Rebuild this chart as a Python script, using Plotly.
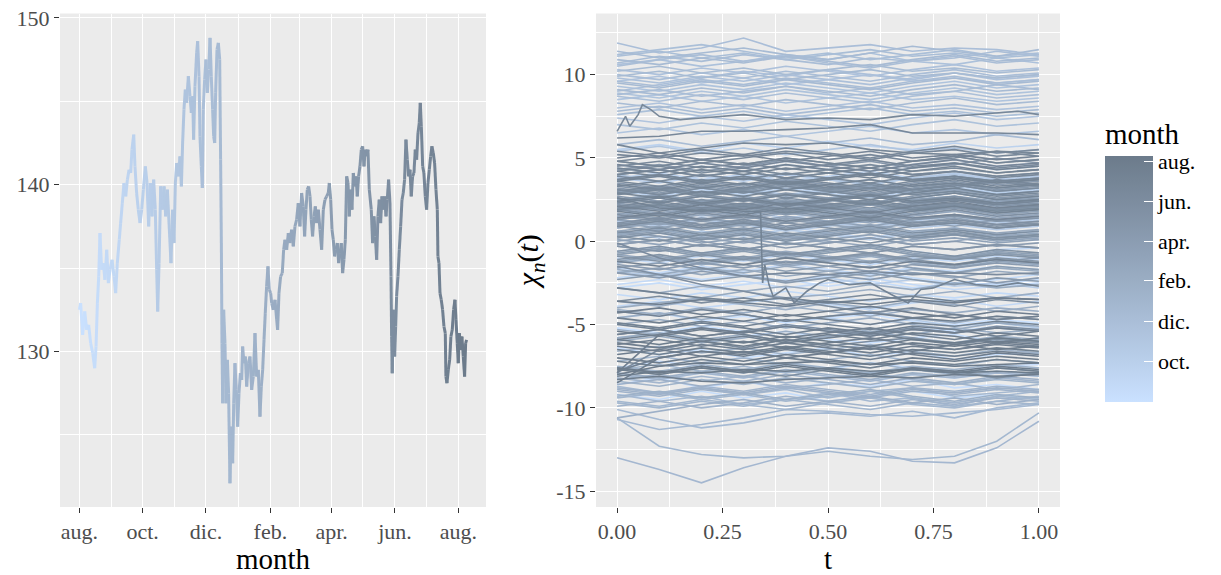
import numpy as np
import pandas as pd
import plotly.graph_objects as go

# ---------------- data ----------------
BASE_DATE = "2022-08-01"

# left panel: price series (day offset from BASE_DATE, price)
left_days = [0.0, 1.3, 3.2, 5.2, 7.1, 9.0, 10.9, 12.9, 14.8, 16.1, 17.4, 18.7, 19.9, 21.5, 23.1, 24.7, 26.4, 28.0, 29.6, 31.5,
             33.4, 35.0, 36.6, 38.5, 39.8, 41.4, 43.0, 44.7, 46.3, 47.9, 49.5, 50.7, 52.4, 53.6, 55.2, 56.8, 58.5, 60.1, 61.7, 63.6,
             65.2, 66.8, 68.4, 70.0, 71.6, 73.2, 74.5, 75.5, 76.8, 78.4, 80.0, 81.6, 83.2, 84.8, 86.4,
             88.3, 89.9, 91.2, 92.5, 93.8, 95.4, 97.0, 98.3, 99.5, 100.8, 102.1, 103.4, 105.0, 106.6, 107.9, 109.2, 110.1, 111.4,
             113.0, 114.0, 115.3, 116.2, 117.5, 118.5, 119.4, 120.7, 122.0, 123.3, 124.6, 125.9, 127.1, 128.4, 129.4, 130.4, 131.3,
             132.6, 133.9, 135.2, 136.1, 136.8, 137.4, 138.1, 139.0, 140.3, 141.3, 142.6, 143.8, 145.1, 146.4, 147.7, 148.7, 149.9,
             151.2, 152.5, 153.8, 155.1, 156.4, 157.3, 158.6, 159.9, 161.2, 162.8, 164.4, 166.0, 167.6, 169.2, 170.8, 172.4, 174.0,
             175.3, 176.6, 177.9, 179.1, 180.4, 181.7, 183.0, 184.3,
             185.3, 186.8, 188.5, 190.1, 191.0, 192.3, 193.9, 195.5, 196.8, 198.1, 199.7, 201.3, 202.9, 204.5, 206.1, 207.7, 209.3,
             210.9, 212.5, 214.1, 215.7, 217.0, 218.3, 219.6, 220.9, 222.2, 223.4, 224.7, 226.0, 227.3, 228.6, 230.2, 231.8, 233.4,
             235.0, 236.6, 238.2, 239.8, 240.8, 242.1, 243.4, 244.6, 245.9, 247.2, 248.5, 249.8, 251.1, 252.3, 253.6, 254.9, 256.2,
             257.5, 258.8, 260.0, 261.3, 262.6, 263.9, 265.2, 266.5, 267.7, 269.0, 270.3, 271.6, 272.9, 274.2, 275.4, 276.7, 278.0,
             279.3,
             281.2, 282.5, 283.8, 285.1, 286.4, 287.6, 288.9, 290.2, 291.5, 292.8, 294.1, 295.4, 296.6, 297.9, 299.2, 300.2, 300.8,
             301.4, 302.4, 303.7, 304.7, 305.6, 306.9, 308.2, 309.5, 310.8, 312.0, 313.3, 314.6, 315.9, 317.2, 318.5, 319.7, 321.0,
             322.3, 323.6, 324.9, 326.2, 327.4, 328.4, 329.4, 330.7, 331.9, 333.2, 334.5, 335.8, 337.1, 338.4, 339.6, 340.9, 342.2,
             343.5, 344.8, 345.4, 346.4, 347.4, 348.6, 349.9, 351.2, 352.5, 353.1, 354.1, 355.4, 356.7, 357.9, 359.2, 360.5, 361.8,
             362.8, 364.0, 365.0, 366.0, 367.3, 368.5, 369.8, 371.1, 372.1, 373.0]
left_price = [132.5, 132.9, 131.0, 132.4, 131.3, 131.6, 130.5, 129.9, 129.0, 130.3, 132.9, 134.5, 137.1, 134.9, 135.3, 134.3, 136.1, 134.1, 134.9, 135.5,
              134.5, 133.5, 135.3, 136.7, 137.7, 138.9, 140.1, 139.3, 140.3, 140.9, 140.7, 142.1, 143.0, 141.1, 139.5, 138.5, 137.7, 138.5, 139.7, 141.1,
              140.1, 137.5, 140.1, 138.1, 140.3, 138.5, 134.9, 132.4, 135.3, 139.9, 138.5, 139.9, 138.1, 139.7, 137.7,
              135.3, 138.5, 136.5, 140.1, 141.3, 140.5, 141.7, 139.9, 142.5, 144.5, 145.7, 144.9, 146.5, 145.3, 144.3, 145.3, 142.7, 145.9,
              147.9, 148.6, 146.5, 142.9, 141.1, 139.8, 144.5, 146.3, 147.5, 145.5, 146.9, 148.8, 146.5, 144.5, 142.9, 142.5, 145.5,
              148.1, 148.5, 147.5, 141.5, 136.5, 130.5, 126.9, 132.5, 130.5, 126.9, 129.5, 127.5, 122.1, 125.5, 123.3, 126.9, 129.3,
              127.7, 125.5, 127.5, 128.7, 128.3, 130.3, 129.3, 129.7, 127.9, 129.3, 129.7, 127.7, 128.5, 131.1, 128.5, 128.9, 126.1,
              127.9, 128.9, 130.7, 132.3, 133.9, 135.1, 133.7, 133.5,
              132.9, 132.5, 133.1, 131.9, 131.3, 133.5, 134.5, 134.7, 136.1, 136.7, 136.1, 137.1, 136.5, 137.3, 136.3, 137.5, 137.9,
              138.9, 137.5, 139.5, 138.7, 136.9, 138.5, 139.7, 139.9, 139.3, 137.9, 136.9, 138.1, 138.7, 137.7, 138.5, 137.3, 136.1,
              138.5, 139.1, 139.3, 139.5, 140.1, 139.1, 137.3, 136.7, 135.7, 136.1, 136.5, 135.3, 135.9, 136.5, 134.7, 135.5, 136.7,
              140.5, 140.1, 138.1, 139.7, 138.5, 140.7, 139.9, 140.5, 139.3, 140.5, 141.1, 142.1, 142.3, 141.1, 142.1, 141.7, 142.1,
              139.7,
              138.5, 136.5, 138.1, 136.9, 135.5, 138.1, 139.1, 137.7, 139.3, 138.5, 139.3, 138.1, 139.1, 140.3, 138.9, 134.5, 130.9,
              128.7, 132.5, 129.7, 131.5, 133.3, 134.5, 136.1, 137.5, 139.1, 139.5, 140.3, 142.7, 141.5, 140.5, 140.9, 139.3, 140.5,
              140.7, 142.1, 141.5, 143.1, 143.7, 144.9, 143.5, 141.1, 140.7, 139.3, 138.5, 140.1, 140.9, 141.7, 142.3, 141.9, 141.3,
              139.7, 138.5, 135.7, 135.3, 133.5, 133.1, 132.5, 131.5, 131.1, 128.5, 128.1, 128.9, 129.5, 130.9, 131.3, 132.5, 133.1,
              131.9, 130.5, 129.3, 131.1, 130.1, 130.9, 129.7, 128.5, 130.5, 130.7]

# right panel: daily curves on a regular t grid (t = 0, 0.1, ..., 1)
curve_t = [0.0, 0.1, 0.2, 0.3, 0.4, 0.5, 0.6, 0.7, 0.8, 0.9, 1.0]
curve_days = [1, 3, 6, 9, 13, 15, 17, 20, 22, 25, 28,
              31, 34, 38, 42, 45, 49, 52, 55, 58,
              61, 64, 67, 70, 73, 75, 78, 81, 84, 87, 90,
              92, 95, 98, 101, 103, 106, 108, 110, 113, 115, 117, 119, 121,
              122, 123, 124, 126, 127, 128, 129, 130, 131, 132, 133, 134, 135, 136,
              138, 140, 141, 143, 145, 147, 149, 151,
              153, 155, 157, 159, 161, 163, 165, 167, 170, 173, 176, 179, 182,
              184, 186, 188, 190, 193, 196, 199, 202, 205, 208, 211,
              213, 215, 217, 220, 223, 226, 229, 232, 235, 238, 241,
              243, 245, 248, 251, 254, 257, 260, 263, 266, 269, 272,
              274, 277, 280, 283, 286, 289, 292, 295, 298, 300, 302,
              304, 306, 308, 310, 312, 314, 316, 318, 320, 322, 326, 328, 330, 332,
              334, 336, 338, 340, 342, 346, 348, 350, 352, 354, 356, 358, 360, 362, 364,
              366, 368, 370, 372]
curve_values = [
    [-4.6, -4.3, -4.8, -4.5, -4.9, -4.6, -4.4, -4.8, -5.0, -4.7, -4.9],
    [-5.8, -5.5, -6.0, -5.7, -5.4, -5.9, -6.1, -5.8, -5.6, -6.0, -5.8],
    [-6.4, -6.8, -6.5, -7.0, -6.7, -6.4, -6.9, -6.6, -7.1, -6.8, -6.7],
    [-7.6, -7.2, -7.5, -7.9, -7.4, -7.7, -7.3, -7.6, -7.8, -7.5, -7.4],
    [-8.6, -8.2, -8.8, -8.4, -8.9, -8.5, -8.7, -8.3, -8.8, -8.6, -8.9],
    [-9.2, -9.5, -9.0, -9.4, -9.1, -9.6, -9.3, -9.0, -9.4, -9.2, -9.5],
    [-2.8, -2.5, -2.9, -2.6, -2.3, -2.7, -2.4, -2.8, -2.5, -2.6, -2.3],
    [-1.0, -1.3, -0.9, -1.2, -0.8, -1.1, -1.4, -1.0, -1.2, -0.9, -1.1],
    [-2.2, -1.9, -2.3, -2.0, -2.4, -2.1, -1.8, -2.2, -2.5, -2.3, -2.0],
    [-3.2, -3.5, -3.1, -3.4, -3.0, -3.3, -3.6, -3.2, -3.4, -3.1, -3.3],
    [-2.6, -2.3, -2.7, -2.4, -2.8, -2.5, -2.2, -2.6, -2.9, -2.7, -2.5],
    [-3.9, -3.6, -4.0, -3.7, -3.4, -3.8, -4.1, -3.7, -3.5, -3.9, -3.6],
    [-0.6, -0.3, -0.7, -0.4, -0.8, -0.5, -0.2, -0.6, -0.9, -0.5, -0.4],
    [0.4, 0.7, 0.3, 0.6, 0.9, 0.5, 0.2, 0.6, 0.8, 0.4, 0.6],
    [1.8, 2.1, 1.7, 2.0, 2.3, 1.9, 2.2, 1.8, 2.0, 2.4, 2.1],
    [3.0, 2.7, 3.1, 2.8, 3.2, 2.9, 2.6, 3.0, 3.3, 2.9, 3.1],
    [3.8, 4.1, 3.7, 4.0, 3.6, 3.9, 4.2, 3.8, 4.0, 3.7, 3.9],
    [5.5, 5.8, 5.4, 5.9, 5.6, 6.0, 5.7, 5.5, 5.9, 5.6, 5.8],
    [4.4, 4.1, 4.5, 4.2, 4.6, 4.3, 4.0, 4.4, 4.7, 4.3, 4.5],
    [1.3, 1.0, 1.4, 1.1, 1.5, 1.2, 0.9, 1.3, 1.6, 1.2, 1.4],
    [3.0, 3.3, 2.9, 3.2, 2.8, 3.1, 3.4, 3.0, 3.2, 2.9, 3.1],
    [2.2, 1.9, 2.3, 2.0, 2.4, 2.1, 1.8, 2.2, 2.5, 2.1, 2.3],
    [0.5, 0.2, 0.6, 0.3, 0.7, 0.4, 0.1, 0.5, 0.8, 0.4, 0.6],
    [1.6, 1.9, 1.5, 1.8, 1.4, 1.7, 2.0, 1.6, 1.8, 1.5, 1.7],
    [-1.8, -2.1, -1.7, -2.0, -2.4, -2.2, -2.6, -2.3, -2.7, -2.5, -2.8],
    [-4.2, -4.5, -4.1, -4.4, -4.8, -4.6, -5.0, -4.7, -5.1, -4.9, -5.2],
    [2.5, 2.8, 2.4, 2.7, 2.3, 2.6, 2.9, 2.5, 2.7, 2.4, 2.6],
    [1.2, 0.9, 1.3, 1.0, 1.4, 1.1, 0.8, 1.2, 1.5, 1.1, 1.3],
    [2.9, 3.2, 2.8, 3.1, 2.7, 3.0, 3.3, 2.9, 3.1, 2.8, 3.0],
    [0.8, 1.1, 0.7, 1.0, 0.6, 0.9, 1.2, 0.8, 1.0, 0.7, 0.9],
    [2.6, 2.3, 2.7, 2.4, 2.8, 2.5, 2.2, 2.6, 2.9, 2.5, 2.7],
    [3.6, 3.9, 3.5, 3.8, 4.1, 3.7, 3.4, 3.8, 4.0, 3.6, 3.8],
    [4.6, 4.3, 4.7, 4.4, 4.8, 4.5, 4.2, 4.6, 4.9, 4.5, 4.7],
    [5.4, 5.7, 5.3, 5.6, 5.2, 5.5, 5.8, 5.4, 5.6, 5.3, 5.5],
    [7.4, 7.1, 7.5, 7.2, 7.6, 7.3, 7.0, 7.4, 7.7, 7.3, 7.5],
    [8.5, 8.8, 8.4, 8.7, 8.3, 8.6, 8.9, 8.5, 8.7, 8.4, 8.6],
    [9.3, 9.0, 9.4, 9.1, 9.5, 9.2, 8.9, 9.3, 9.6, 9.2, 9.4],
    [8.0, 8.3, 7.9, 8.2, 7.8, 8.1, 8.4, 8.0, 8.2, 7.9, 8.1],
    [7.0, 6.7, 7.1, 6.8, 7.2, 6.9, 6.6, 7.0, 7.3, 6.9, 7.1],
    [10.6, 10.9, 10.5, 10.8, 11.2, 10.9, 11.3, 10.8, 10.6, 11.0, 10.7],
    [9.8, 9.5, 9.9, 9.6, 10.0, 9.7, 9.4, 9.8, 10.1, 9.7, 9.9],
    [4.0, 3.6, 3.2, 2.9, 3.3, 3.0, 2.7, 3.1, 3.4, 3.0, 3.2],
    [9.0, 9.4, 9.8, 10.2, 9.9, 10.3, 10.0, 9.7, 10.1, 9.8, 10.0],
    [11.2, 11.5, 11.8, 11.4, 11.0, 11.3, 10.9, 11.2, 11.5, 11.1, 11.3],
    [11.9, 11.3, 11.6, 12.2, 11.4, 11.6, 11.8, 11.4, 11.6, 11.5, 11.2],
    [10.5, 10.9, 11.2, 10.8, 11.1, 10.7, 10.4, 10.8, 11.0, 11.4, 11.1],
    [10.0, 9.7, 10.1, 9.8, 10.2, 9.9, 9.6, 10.0, 10.3, 9.9, 10.1],
    [8.8, 9.1, 8.7, 9.0, 9.3, 8.9, 9.2, 8.8, 9.0, 9.4, 9.1],
    [10.7, 11.1, 10.8, 11.2, 10.9, 10.6, 11.0, 10.8, 11.1, 10.7, 10.9],
    [9.6, 9.3, 9.7, 9.4, 9.8, 9.5, 9.2, 9.6, 9.9, 9.5, 9.7],
    [7.8, 8.1, 7.7, 8.0, 7.6, 7.9, 8.2, 7.8, 8.0, 7.7, 7.9],
    [5.8, 6.1, 5.7, 6.0, 6.3, 5.9, 6.2, 5.8, 6.0, 6.4, 6.1],
    [8.3, 8.0, 8.4, 8.1, 8.5, 8.2, 7.9, 8.3, 8.6, 8.2, 8.4],
    [10.2, 10.5, 10.1, 10.4, 10.0, 10.3, 10.6, 10.2, 10.4, 10.1, 10.3],
    [11.4, 11.0, 11.3, 11.6, 11.2, 10.9, 11.3, 11.7, 11.4, 11.1, 11.5],
    [9.1, 8.8, 9.2, 8.9, 9.3, 9.0, 8.7, 9.1, 9.4, 9.0, 9.2],
    [10.9, 10.6, 11.0, 10.7, 11.1, 10.8, 10.5, 10.9, 11.2, 10.8, 11.0],
    [9.9, 10.2, 9.8, 10.1, 9.7, 10.0, 10.3, 9.9, 10.1, 9.8, 10.0],
    [-10.1, -10.7, -11.2, -10.9, -10.4, -10.3, -10.5, -10.2, -10.6, -10.0, -9.7],
    [-9.2, -9.6, -9.3, -9.8, -9.5, -9.1, -9.6, -9.4, -9.9, -9.3, -9.0],
    [-10.7, -11.3, -11.0, -10.6, -10.1, -10.2, -10.4, -10.5, -10.3, -10.1, -9.8],
    [-8.7, -9.1, -8.8, -9.2, -8.9, -9.4, -9.0, -8.8, -9.3, -9.1, -8.9],
    [-10.6, -12.3, -12.8, -13.0, -12.9, -12.6, -12.9, -13.1, -12.9, -12.0, -10.3],
    [-13.0, -13.7, -14.5, -13.6, -12.9, -12.4, -12.6, -13.2, -13.3, -12.4, -10.8],
    [-9.6, -9.9, -9.5, -9.8, -10.1, -9.7, -9.4, -9.8, -10.0, -9.6, -9.3],
    [-8.2, -8.5, -8.1, -8.4, -8.8, -8.6, -8.3, -8.7, -8.5, -8.9, -8.6],
    [-9.4, -9.1, -9.5, -9.2, -9.6, -9.3, -9.0, -9.4, -9.7, -9.3, -9.5],
    [-8.0, -8.3, -7.9, -8.2, -7.8, -8.1, -8.4, -8.0, -8.2, -7.9, -8.1],
    [-7.2, -6.9, -7.3, -7.0, -7.4, -7.1, -6.8, -7.2, -7.5, -7.1, -7.3],
    [-8.8, -9.1, -8.7, -9.0, -8.6, -8.9, -9.2, -8.8, -9.0, -8.7, -8.9],
    [-7.7, -7.4, -7.8, -7.5, -7.9, -7.6, -7.3, -7.7, -8.0, -7.6, -7.8],
    [-9.9, -9.6, -10.0, -9.7, -9.3, -9.6, -9.9, -9.5, -9.8, -9.4, -9.6],
    [-8.4, -8.7, -8.3, -8.6, -8.2, -8.5, -8.8, -8.4, -8.6, -8.3, -8.5],
    [-6.6, -6.3, -6.7, -6.4, -6.8, -6.5, -6.2, -6.6, -6.9, -6.5, -6.7],
    [-8.9, -9.2, -8.8, -9.1, -8.7, -9.0, -9.3, -8.9, -9.1, -8.8, -9.0],
    [-10.6, -10.2, -9.8, -9.5, -9.9, -9.6, -9.3, -9.7, -9.4, -9.8, -9.5],
    [-8.6, -8.3, -8.7, -8.4, -8.0, -8.3, -8.6, -8.2, -8.5, -8.1, -8.3],
    [-6.0, -5.7, -6.1, -5.8, -5.4, -5.7, -5.3, -5.6, -5.2, -5.5, -5.3],
    [-2.8, -3.1, -2.7, -3.0, -3.4, -3.2, -2.9, -3.3, -3.0, -3.4, -3.1],
    [-3.6, -3.9, -3.5, -3.8, -4.1, -3.7, -4.0, -3.6, -3.8, -4.2, -3.9],
    [-4.6, -4.3, -4.7, -4.4, -4.8, -4.5, -4.2, -4.6, -4.9, -4.5, -4.7],
    [-5.3, -5.6, -5.2, -5.5, -5.1, -5.4, -5.7, -5.3, -5.5, -5.2, -5.4],
    [-5.8, -5.5, -5.9, -5.6, -6.0, -5.7, -5.4, -5.8, -6.1, -5.7, -5.9],
    [-4.0, -3.7, -3.4, -3.0, -2.7, -3.0, -2.6, -2.9, -2.5, -2.8, -2.6],
    [-1.7, -2.0, -1.6, -1.9, -1.5, -1.8, -2.1, -1.7, -1.9, -1.6, -1.8],
    [-0.8, -1.1, -0.7, -1.0, -0.6, -0.9, -1.2, -0.8, -1.0, -0.7, -0.9],
    [-0.2, 0.1, -0.3, 0.0, 0.3, -0.1, 0.2, -0.2, 0.0, 0.4, 0.1],
    [-1.3, -1.0, -1.4, -1.1, -1.5, -1.2, -0.9, -1.3, -1.6, -1.2, -1.4],
    [0.4, 0.7, 0.3, 0.6, 0.2, 0.5, 0.8, 0.4, 0.6, 0.3, 0.5],
    [1.5, 1.2, 1.6, 1.3, 1.7, 1.4, 1.1, 1.5, 1.8, 1.4, 1.6],
    [1.9, 2.2, 1.8, 2.1, 2.4, 2.0, 1.7, 2.1, 2.3, 1.9, 2.1],
    [2.6, 2.3, 2.7, 2.4, 2.8, 2.5, 2.2, 2.6, 2.9, 2.5, 2.7],
    [0.1, -0.2, 0.2, -0.1, 0.3, 0.0, -0.3, 0.1, 0.4, 0.0, 0.2],
    [2.9, 3.2, 2.8, 3.1, 2.7, 3.0, 3.3, 2.9, 3.1, 2.8, 3.0],
    [1.1, 0.8, 1.2, 0.9, 1.3, 1.0, 0.7, 1.1, 1.4, 1.0, 1.2],
    [0.8, 1.1, 0.7, 1.0, 1.4, 1.1, 1.5, 1.2, 0.9, 1.3, 1.0],
    [1.7, 1.4, 1.8, 1.5, 1.9, 1.6, 1.3, 1.7, 2.0, 1.6, 1.8],
    [-0.7, -0.4, -0.8, -0.5, -0.9, -0.6, -0.3, -0.7, -1.0, -0.6, -0.8],
    [1.4, 1.7, 1.3, 1.6, 1.2, 1.5, 1.8, 1.4, 1.6, 1.3, 1.5],
    [2.3, 2.0, 2.4, 2.1, 2.5, 2.2, 1.9, 2.3, 2.6, 2.2, 2.4],
    [3.1, 2.8, 3.2, 2.9, 3.3, 3.0, 2.7, 3.1, 3.4, 3.0, 3.2],
    [0.6, 0.3, 0.0, -0.4, -0.7, -1.0, -0.8, -1.1, -0.9, -1.2, -1.0],
    [-1.6, -1.3, -1.7, -1.4, -1.8, -1.5, -1.2, -1.6, -1.9, -1.5, -1.7],
    [-0.8, -0.5, -0.9, -0.6, -1.0, -0.7, -0.4, -0.8, -1.1, -0.7, -0.9],
    [0.3, 0.6, 0.2, 0.5, 0.1, 0.4, 0.7, 0.3, 0.5, 0.2, 0.4],
    [-1.9, -2.2, -1.8, -2.1, -2.4, -2.0, -2.3, -1.9, -2.1, -2.5, -2.2],
    [3.5, 3.2, 3.6, 3.3, 3.7, 3.4, 3.1, 3.5, 3.8, 3.4, 3.6],
    [2.4, 2.7, 2.3, 2.6, 2.2, 2.5, 2.8, 2.4, 2.6, 2.3, 2.5],
    [3.7, 4.0, 3.6, 3.9, 3.5, 3.8, 4.1, 3.7, 3.9, 3.6, 3.8],
    [2.7, 2.4, 2.8, 2.5, 2.9, 2.6, 2.3, 2.7, 3.0, 2.6, 2.8],
    [4.3, 4.6, 4.2, 4.5, 4.9, 4.5, 4.8, 4.4, 4.6, 5.0, 4.7],
    [3.3, 3.0, 3.4, 3.1, 3.5, 3.2, 2.9, 3.3, 3.6, 3.2, 3.4],
    [1.3, 1.6, 1.2, 1.5, 1.1, 1.4, 1.7, 1.3, 1.5, 1.2, 1.4],
    [-0.3, -0.6, -0.2, -0.5, -0.1, -0.4, -0.7, -0.3, -0.5, -0.2, -0.4],
    [0.9, 0.6, 1.0, 0.7, 1.1, 0.8, 0.5, 0.9, 1.2, 0.8, 1.0],
    [-0.9, -1.2, -0.8, -1.1, -0.7, -1.0, -1.3, -0.9, -1.1, -0.8, -1.0],
    [0.2, 0.5, 0.1, 0.4, 0.0, 0.3, 0.6, 0.2, 0.4, 0.1, 0.3],
    [1.9, 1.6, 2.0, 1.7, 2.1, 1.8, 1.5, 1.9, 2.2, 1.8, 2.0],
    [0.5, 0.8, 0.4, 0.7, 0.3, 0.6, 0.9, 0.5, 0.7, 0.4, 0.6],
    [1.6, 1.3, 1.7, 1.4, 1.8, 1.5, 1.2, 1.6, 1.9, 1.5, 1.7],
    [2.9, 3.2, 2.8, 3.1, 3.5, 3.1, 3.4, 3.0, 3.2, 3.6, 3.3],
    [-1.5, -2.0, -2.6, -3.0, -3.5, -3.9, -4.3, -4.0, -4.4, -4.7, -4.5],
    [-7.6, -7.9, -7.5, -7.8, -8.1, -7.7, -8.0, -7.6, -7.8, -8.2, -7.9],
    [-7.9, -6.5, -6.0, -6.4, -5.9, -6.3, -6.0, -5.8, -6.2, -5.9, -6.1],
    [-5.6, -5.3, -5.7, -5.4, -5.0, -5.3, -5.6, -5.2, -5.5, -5.1, -5.3],
    [-3.6, -3.3, -3.7, -3.4, -3.8, -3.5, -3.2, -3.6, -3.9, -3.5, -3.7],
    [-0.1, -1.0, -1.6, -2.1, -1.9, -2.0, -1.8, -2.0, -1.9, -2.0, -1.9],
    [0.9, 1.2, 0.8, 1.1, 0.7, 1.0, 1.3, 0.9, 1.1, 0.8, 1.0],
    [2.1, 2.4, 2.0, 2.3, 1.9, 2.2, 2.5, 2.1, 2.3, 2.0, 2.2],
    [3.6, 3.3, 3.7, 3.4, 3.8, 3.5, 3.2, 3.6, 3.9, 3.5, 3.7],
    [4.5, 4.8, 4.4, 4.7, 4.3, 4.6, 4.9, 4.5, 4.7, 4.4, 4.6],
    [3.0, 3.3, 2.9, 3.2, 3.6, 3.2, 3.5, 3.1, 3.3, 3.7, 3.4],
    [5.2, 5.0, 5.3, 5.1, 5.4, 5.2, 4.9, 5.3, 5.5, 5.1, 5.3],
    [6.2, 6.3, 6.6, 6.6, 6.7, 6.8, 7.0, 6.5, 6.5, 6.5, 6.4],
    [5.8, 5.3, 5.6, 5.9, 5.8, 5.9, 5.5, 5.3, 5.2, 5.4, 5.3],
    [4.0, 4.3, 3.9, 4.2, 3.8, 4.1, 4.4, 4.0, 4.2, 3.9, 4.1],
    [2.6, 2.3, 2.7, 2.4, 2.8, 2.5, 2.2, 2.6, 2.9, 2.5, 2.7],
    [4.8, 4.5, 4.9, 4.6, 5.0, 4.7, 4.4, 4.8, 5.1, 4.7, 4.9],
    [3.3, 3.6, 3.2, 3.5, 3.1, 3.4, 3.7, 3.3, 3.5, 3.2, 3.4],
    [2.4, 2.7, 2.3, 2.6, 2.2, 2.5, 2.8, 2.4, 2.6, 2.3, 2.5],
    [4.2, 3.9, 4.3, 4.0, 4.4, 4.1, 3.8, 4.2, 4.5, 4.1, 4.3],
    [1.8, 1.5, 1.9, 1.6, 2.0, 1.7, 1.4, 1.8, 2.1, 1.7, 1.9],
    [-2.8, -3.1, -3.4, -3.6, -3.4, -3.7, -3.5, -3.3, -3.6, -3.4, -3.5],
    [-4.2, -4.5, -4.1, -4.4, -4.8, -4.5, -4.3, -4.6, -4.4, -4.7, -4.5],
    [-5.0, -5.3, -4.9, -5.2, -5.6, -5.2, -5.5, -5.1, -5.3, -5.7, -5.4],
    [-5.9, -5.6, -6.0, -5.7, -6.1, -5.8, -5.5, -5.9, -6.2, -5.8, -6.0],
    [-7.8, -7.0, -6.6, -6.9, -6.5, -6.8, -7.1, -6.7, -6.9, -6.6, -6.8],
    [-6.3, -6.6, -6.2, -6.5, -6.1, -6.4, -6.7, -6.3, -6.5, -6.2, -6.4],
    [-4.6, -4.9, -4.5, -4.8, -4.4, -4.7, -5.0, -4.6, -4.8, -4.5, -4.7],
    [-3.6, -3.8, -3.5, -3.7, -3.9, -3.6, -3.8, -3.5, -3.7, -3.4, -3.5],
    [-5.4, -5.7, -5.3, -5.6, -6.0, -5.6, -5.9, -5.5, -5.7, -6.1, -5.8],
    [-6.8, -6.5, -6.9, -6.6, -7.0, -6.7, -6.4, -6.8, -7.1, -6.7, -6.9],
    [-8.3, -8.1, -8.4, -8.5, -8.3, -8.2, -8.1, -8.2, -8.0, -8.1, -8.0],
    [-7.6, -7.9, -7.5, -7.8, -7.4, -7.7, -8.0, -7.6, -7.8, -7.5, -7.7],
    [-8.5, -7.0, -6.6, -6.8, -6.4, -6.7, -6.3, -6.6, -6.2, -6.5, -6.3],
    [-8.0, -7.5, -7.3, -7.4, -7.3, -7.2, -7.4, -7.3, -7.5, -7.4, -7.3],
]

# further daily curves on the same t grid
extra_days = [2, 11, 24, 36, 47, 65, 72, 80, 86,
              100, 104, 107, 112, 118, 120, 125, 137,
              154, 158, 162, 168, 172, 177,
              185, 192, 198, 204, 210, 214, 219, 224, 228, 234, 240,
              247, 250, 256, 259, 265, 268, 271, 276, 279, 282, 285, 288, 291, 294, 297,
              311, 313, 315, 317, 319, 321, 323, 325, 327, 329, 331, 333, 335, 337, 339, 341, 343,
              345, 347, 349, 351, 353, 357, 359, 361, 363, 365, 367, 369, 371]
extra_values = [
    [-5.2, -5.5, -5.1, -5.4, -5.0, -5.3, -5.6, -5.2, -5.4, -5.1, -5.3],
    [-8.0, -8.3, -7.9, -8.2, -7.8, -8.1, -8.4, -8.0, -8.2, -7.9, -8.1],
    [-1.6, -1.9, -1.5, -1.8, -1.4, -1.7, -2.0, -1.6, -1.8, -1.5, -1.7],
    [-1.3, -1.0, -1.4, -1.1, -1.5, -1.2, -0.9, -1.3, -1.6, -1.2, -1.4],
    [3.3, 3.6, 3.2, 3.5, 3.1, 3.4, 3.7, 3.3, 3.5, 3.2, 3.4],
    [1.9, 1.6, 2.0, 1.7, 2.1, 1.8, 1.5, 1.9, 2.2, 1.8, 2.0],
    [3.8, 3.5, 3.9, 3.6, 4.0, 3.7, 3.4, 3.8, 4.1, 3.7, 3.9],
    [0.2, 0.5, 0.1, 0.4, 0.0, 0.3, 0.6, 0.2, 0.4, 0.1, 0.3],
    [2.3, 2.6, 2.2, 2.5, 2.1, 2.4, 2.7, 2.3, 2.5, 2.2, 2.4],
    [6.5, 6.8, 6.4, 6.7, 6.3, 6.6, 6.9, 6.5, 6.7, 6.4, 6.6],
    [9.6, 9.9, 9.5, 9.8, 9.4, 9.7, 10.0, 9.6, 9.8, 9.5, 9.7],
    [8.9, 8.6, 9.0, 8.7, 9.1, 8.8, 8.5, 8.9, 9.2, 8.8, 9.0],
    [10.3, 10.0, 10.4, 10.1, 10.5, 10.2, 9.9, 10.3, 10.6, 10.2, 10.4],
    [7.6, 7.9, 7.5, 7.8, 7.4, 7.7, 8.0, 7.6, 7.8, 7.5, 7.7],
    [8.7, 8.4, 8.8, 8.5, 8.9, 8.6, 8.3, 8.7, 9.0, 8.6, 8.8],
    [11.1, 11.4, 11.0, 11.3, 10.9, 11.2, 11.5, 11.1, 11.3, 11.0, 11.2],
    [9.5, 9.2, 9.6, 9.3, 9.7, 9.4, 9.1, 9.5, 9.8, 9.4, 9.6],
    [-9.7, -10.0, -9.6, -9.9, -9.5, -9.8, -10.1, -9.7, -9.9, -9.6, -9.8],
    [-8.3, -8.0, -8.4, -8.1, -8.5, -8.2, -7.9, -8.3, -8.6, -8.2, -8.4],
    [-9.0, -9.3, -8.9, -9.2, -8.8, -9.1, -9.4, -9.0, -9.2, -8.9, -9.1],
    [-7.5, -7.8, -7.4, -7.7, -7.3, -7.6, -7.9, -7.5, -7.7, -7.4, -7.6],
    [-9.3, -9.0, -9.4, -9.1, -9.5, -9.2, -8.9, -9.3, -9.6, -9.2, -9.4],
    [-7.9, -8.2, -7.8, -8.1, -7.7, -8.0, -8.3, -7.9, -8.1, -7.8, -8.0],
    [-4.1, -4.4, -4.0, -4.3, -3.9, -4.2, -4.5, -4.1, -4.3, -4.0, -4.2],
    [-5.0, -4.7, -5.1, -4.8, -5.2, -4.9, -4.6, -5.0, -5.3, -4.9, -5.1],
    [-0.3, -0.6, -0.2, -0.5, -0.1, -0.4, -0.7, -0.3, -0.5, -0.2, -0.4],
    [-1.9, -1.6, -2.0, -1.7, -2.1, -1.8, -1.5, -1.9, -2.2, -1.8, -2.0],
    [0.9, 1.2, 0.8, 1.1, 0.7, 1.0, 1.3, 0.9, 1.1, 0.8, 1.0],
    [2.0, 1.7, 2.1, 1.8, 2.2, 1.9, 1.6, 2.0, 2.3, 1.9, 2.1],
    [0.6, 0.9, 0.5, 0.8, 0.4, 0.7, 1.0, 0.6, 0.8, 0.5, 0.7],
    [1.3, 1.0, 1.4, 1.1, 1.5, 1.2, 0.9, 1.3, 1.6, 1.2, 1.4],
    [0.0, 0.3, -0.1, 0.2, -0.2, 0.1, 0.4, 0.0, 0.2, -0.1, 0.1],
    [-1.2, -0.9, -1.3, -1.0, -1.4, -1.1, -0.8, -1.2, -1.5, -1.1, -1.3],
    [2.5, 2.8, 2.4, 2.7, 2.3, 2.6, 2.9, 2.5, 2.7, 2.4, 2.6],
    [-0.2, 0.1, -0.3, 0.0, -0.4, -0.1, 0.2, -0.2, 0.0, -0.3, -0.1],
    [-1.4, -1.7, -1.3, -1.6, -1.2, -1.5, -1.8, -1.4, -1.6, -1.3, -1.5],
    [-2.3, -2.0, -2.4, -2.1, -2.5, -2.2, -1.9, -2.3, -2.6, -2.2, -2.4],
    [1.8, 2.1, 1.7, 2.0, 1.6, 1.9, 2.2, 1.8, 2.0, 1.7, 1.9],
    [3.2, 2.9, 3.3, 3.0, 3.4, 3.1, 2.8, 3.2, 3.5, 3.1, 3.3],
    [4.0, 4.3, 3.9, 4.2, 3.8, 4.1, 4.4, 4.0, 4.2, 3.9, 4.1],
    [4.8, 4.5, 4.9, 4.6, 5.0, 4.7, 4.4, 4.8, 5.1, 4.7, 4.9],
    [2.2, 1.9, 2.3, 2.0, 2.4, 2.1, 1.8, 2.2, 2.5, 2.1, 2.3],
    [-1.1, -0.8, -1.2, -0.9, -1.3, -1.0, -0.7, -1.1, -1.4, -1.0, -1.2],
    [1.0, 1.3, 0.9, 1.2, 0.8, 1.1, 1.4, 1.0, 1.2, 0.9, 1.1],
    [-0.6, -0.3, -0.7, -0.4, -0.8, -0.5, -0.2, -0.6, -0.9, -0.5, -0.7],
    [2.4, 2.1, 2.5, 2.2, 2.6, 2.3, 2.0, 2.4, 2.7, 2.3, 2.5],
    [1.1, 1.4, 1.0, 1.3, 0.9, 1.2, 1.5, 1.1, 1.3, 1.0, 1.2],
    [0.3, 0.0, 0.4, 0.1, 0.5, 0.2, -0.1, 0.3, 0.6, 0.2, 0.4],
    [2.0, 2.3, 1.9, 2.2, 1.8, 2.1, 2.4, 2.0, 2.2, 1.9, 2.1],
    [3.1, 2.8, 3.2, 2.9, 3.3, 3.0, 2.7, 3.1, 3.4, 3.0, 3.2],
    [4.2, 4.5, 4.1, 4.4, 4.0, 4.3, 4.6, 4.2, 4.4, 4.1, 4.3],
    [5.4, 5.1, 5.5, 5.2, 5.6, 5.3, 5.0, 5.4, 5.7, 5.3, 5.5],
    [2.8, 3.1, 2.7, 3.0, 2.6, 2.9, 3.2, 2.8, 3.0, 2.7, 2.9],
    [3.9, 3.6, 4.0, 3.7, 4.1, 3.8, 3.5, 3.9, 4.2, 3.8, 4.0],
    [1.9, 2.2, 1.8, 2.1, 1.7, 2.0, 2.3, 1.9, 2.1, 1.8, 2.0],
    [4.8, 5.1, 4.7, 5.0, 5.3, 4.9, 5.2, 4.8, 5.0, 5.4, 5.1],
    [3.4, 3.1, 3.5, 3.2, 3.6, 3.3, 3.0, 3.4, 3.7, 3.3, 3.5],
    [2.3, 2.6, 2.2, 2.5, 2.1, 2.4, 2.7, 2.3, 2.5, 2.2, 2.4],
    [4.6, 4.3, 4.7, 4.4, 4.8, 4.5, 4.2, 4.6, 4.9, 4.5, 4.7],
    [3.7, 4.0, 3.6, 3.9, 3.5, 3.8, 4.1, 3.7, 3.9, 3.6, 3.8],
    [1.4, 1.7, 1.3, 1.6, 1.2, 1.5, 1.8, 1.4, 1.6, 1.3, 1.5],
    [2.9, 2.6, 3.0, 2.7, 3.1, 2.8, 2.5, 2.9, 3.2, 2.8, 3.0],
    [5.0, 5.3, 4.9, 5.2, 4.8, 5.1, 5.4, 5.0, 5.2, 4.9, 5.1],
    [3.6, 3.9, 3.5, 3.8, 3.4, 3.7, 4.0, 3.6, 3.8, 3.5, 3.7],
    [2.1, 1.8, 2.2, 1.9, 2.3, 2.0, 1.7, 2.1, 2.4, 2.0, 2.2],
    [4.4, 4.1, 4.5, 4.2, 4.6, 4.3, 4.0, 4.4, 4.7, 4.3, 4.5],
    [-1.2, -1.5, -1.1, -1.4, -1.0, -1.3, -1.6, -1.2, -1.4, -1.1, -1.3],
    [-4.9, -5.2, -4.8, -5.1, -4.7, -5.0, -5.3, -4.9, -5.1, -4.8, -5.0],
    [-6.2, -5.9, -6.3, -6.0, -6.4, -6.1, -5.8, -6.2, -6.5, -6.1, -6.3],
    [-7.2, -7.5, -7.1, -7.4, -7.0, -7.3, -7.6, -7.2, -7.4, -7.1, -7.3],
    [-5.6, -5.3, -5.7, -5.4, -5.8, -5.5, -5.2, -5.6, -5.9, -5.5, -5.7],
    [-7.9, -5.6, -5.2, -5.5, -5.1, -5.4, -5.7, -5.3, -5.5, -5.2, -5.4],
    [-6.5, -6.8, -6.4, -6.7, -6.3, -6.6, -6.9, -6.5, -6.7, -6.4, -6.6],
    [-4.3, -4.0, -4.4, -4.1, -4.5, -4.2, -3.9, -4.3, -4.6, -4.2, -4.4],
    [-7.7, -8.0, -7.6, -7.9, -7.5, -7.8, -8.1, -7.7, -7.9, -7.6, -7.8],
    [-6.1, -6.4, -6.0, -6.3, -5.9, -6.2, -6.5, -6.1, -6.3, -6.0, -6.2],
    [-8.1, -7.8, -7.9, -7.7, -7.8, -7.6, -7.8, -7.7, -7.9, -7.8, -7.9],
    [-7.0, -7.3, -6.9, -7.2, -6.8, -7.1, -7.4, -7.0, -7.2, -6.9, -7.1],
    [-5.9, -6.2, -5.8, -6.1, -5.7, -6.0, -6.3, -5.9, -6.1, -5.8, -6.0],
]

# two curves read at finer t steps
peak_day = 324
peak_t = [0.0, 0.02, 0.03, 0.05, 0.06, 0.08, 0.1, 0.15, 0.2, 0.3, 0.4, 0.5, 0.6, 0.7, 0.8, 0.9, 0.95, 1.0]
peak_v = [6.6, 7.5, 6.9, 7.6, 8.2, 7.9, 7.5, 7.3, 7.4, 7.6, 7.3, 7.4, 7.3, 7.6, 7.5, 7.7, 7.8, 7.6]
jump_day = 344
jump_t = [0.0, 0.05, 0.1, 0.15, 0.2, 0.25, 0.3, 0.34, 0.345, 0.35, 0.36, 0.37, 0.4, 0.42, 0.45, 0.48, 0.5,
          0.55, 0.6, 0.65, 0.69, 0.72, 0.75, 0.8, 0.85, 0.9, 0.95, 1.0]
jump_v = [2.6, 2.3, 2.0, 1.9, 1.8, 1.9, 1.8, 1.8, -2.5, -1.4, -2.6, -3.3, -2.8, -3.7, -3.0, -2.5, -2.3,
          -2.6, -2.5, -3.2, -3.7, -2.9, -2.8, -2.3, -2.6, -2.7, -2.5, -2.7]

# axis ticks
month_ticks = ["2022-08-01", "2022-10-01", "2022-12-01", "2023-02-01", "2023-04-01", "2023-06-01", "2023-08-01"]
month_labels = ["aug.", "oct.", "dic.", "feb.", "apr.", "jun.", "aug."]
month_minor = ["2022-09-01", "2022-11-01", "2023-01-01", "2023-03-01", "2023-05-01", "2023-07-01"]
price_ticks = [130, 140, 150]
price_minor = [125, 135, 145]
t_ticks = [0, 0.25, 0.5, 0.75, 1.0]
t_labels = ["0.00", "0.25", "0.50", "0.75", "1.00"]
t_minor = [0.125, 0.375, 0.625, 0.875]
x_ticks = [-15, -10, -5, 0, 5, 10]
x_labels = ["-15", "-10", "-5", "0", "5", "10"]
x_minor = [-12.5, -7.5, -2.5, 2.5, 7.5, 12.5]
DAY_MAX = 373.0

# ---------------- colours (ggplot-like Lab gradient) ----------------
LOW, HIGH = "#CAE1FF", "#6C7B8B"


def _lin(c):
    return c / 12.92 if c <= 0.04045 else ((c + 0.055) / 1.055) ** 2.4


def _gam(c):
    c = min(max(c, 0.0), 1.0)
    return 12.92 * c if c <= 0.0031308 else 1.055 * c ** (1 / 2.4) - 0.055


WHITE = (0.95047, 1.0, 1.08883)


def hex_to_lab(h):
    r, g, b = [_lin(int(h[i:i + 2], 16) / 255) for i in (1, 3, 5)]
    X = 0.4124 * r + 0.3576 * g + 0.1805 * b
    Y = 0.2126 * r + 0.7152 * g + 0.0722 * b
    Z = 0.0193 * r + 0.1192 * g + 0.9505 * b
    f = lambda t: t ** (1 / 3) if t > 0.008856 else 7.787 * t + 16 / 116
    fx, fy, fz = f(X / WHITE[0]), f(Y / WHITE[1]), f(Z / WHITE[2])
    return 116 * fy - 16, 500 * (fx - fy), 200 * (fy - fz)


def lab_to_rgb(L, a, b):
    fy = (L + 16) / 116
    fx = fy + a / 500
    fz = fy - b / 200
    finv = lambda t: t ** 3 if t ** 3 > 0.008856 else (t - 16 / 116) / 7.787
    X, Y, Z = finv(fx) * WHITE[0], finv(fy) * WHITE[1], finv(fz) * WHITE[2]
    r = 3.2406 * X - 1.5372 * Y - 0.4986 * Z
    g = -0.9689 * X + 1.8758 * Y + 0.0415 * Z
    bb = 0.0557 * X - 0.2040 * Y + 1.0570 * Z
    return "rgb(%d,%d,%d)" % tuple(round(_gam(c) * 255) for c in (r, g, bb))


LAB_LO, LAB_HI = hex_to_lab(LOW), hex_to_lab(HIGH)


def grad(frac):
    frac = min(max(frac, 0.0), 1.0)
    return lab_to_rgb(*[lo + (hi - lo) * frac for lo, hi in zip(LAB_LO, LAB_HI)])


colorscale = [[i / 10, grad(i / 10)] for i in range(11)]

FONT = "Liberation Serif"
base = pd.Timestamp(BASE_DATE)
left_dates = base + pd.to_timedelta(left_days, unit="D")

fig = go.Figure()

# left panel: series coloured along time
for i in range(len(left_days) - 1):
    mid = 0.5 * (left_days[i] + left_days[i + 1])
    fig.add_trace(go.Scatter(x=[left_dates[i], left_dates[i + 1]], y=[left_price[i], left_price[i + 1]],
                             mode="lines", line=dict(color=grad(mid / DAY_MAX), width=3),
                             xaxis="x", yaxis="y", showlegend=False, hoverinfo="skip"))

# right panel: curves ordered by day
curves = [(d, curve_t, v) for d, v in zip(curve_days, curve_values)]
curves += [(d, curve_t, v) for d, v in zip(extra_days, extra_values)]
curves.append((peak_day, peak_t, peak_v))
curves.append((jump_day, jump_t, jump_v))
curves.sort(key=lambda c: c[0])
for d, tt, vv in curves:
    fig.add_trace(go.Scatter(x=tt, y=vv, mode="lines", line=dict(color=grad(d / DAY_MAX), width=1.6),
                             xaxis="x2", yaxis="y2", showlegend=False, hoverinfo="skip"))

cb_vals = [(pd.Timestamp(m) - base).days for m in month_ticks[1:]]
W, H = 1221, 575
fig.add_trace(go.Scatter(
    x=[0.5], y=[0], mode="markers", xaxis="x2", yaxis="y2", showlegend=False, hoverinfo="skip",
    marker=dict(size=1, opacity=0, color=[0], cmin=0, cmax=DAY_MAX, colorscale=colorscale, showscale=True,
                colorbar=dict(thickness=48, len=283, lenmode="pixels", x=1105 / W, xanchor="left",
                              y=1 - 402 / H, yanchor="bottom", outlinewidth=0, xpad=0, ypad=0,
                              tickmode="array", tickvals=cb_vals, ticktext=month_labels[1:],
                              ticks="inside", ticklen=9, tickcolor="white", tickwidth=1,
                              tickfont=dict(family=FONT, size=22, color="black"),
                              title=dict(text="month", side="top", font=dict(family=FONT, size=29, color="black"))))))

ax_common = dict(showline=False, zeroline=False, ticks="outside", ticklen=5, tickwidth=1.1, tickcolor="#333333",
                 showgrid=True, gridcolor="white", gridwidth=1.1, automargin=False,
                 tickfont=dict(family=FONT, size=22, color="#4D4D4D"))
minor_style = dict(showgrid=True, gridcolor="white", gridwidth=0.55, ticks="")

ydom = [1 - 507 / H, 1 - 13.5 / H]
xr0 = base + pd.to_timedelta(-18.6, unit="D")
xr1 = base + pd.to_timedelta(391.7, unit="D")

fig.update_layout(
    width=W, height=H, margin=dict(l=0, r=0, t=0, b=0),
    paper_bgcolor="white", plot_bgcolor="#EBEBEB", showlegend=False,
    xaxis=dict(ax_common, domain=[60 / W, 486 / W], type="date", range=[xr0, xr1], anchor="y",
               tickmode="array", tickvals=month_ticks, ticktext=month_labels,
               minor=dict(minor_style, tickvals=month_minor),
               title=dict(text="month", standoff=9, font=dict(family=FONT, size=29, color="black"))),
    yaxis=dict(ax_common, domain=ydom, range=[120.68, 150.26], anchor="x",
               tickmode="array", tickvals=price_ticks, minor=dict(minor_style, tickvals=price_minor)),
    xaxis2=dict(ax_common, domain=[596 / W, 1060 / W], range=[-0.05, 1.05], anchor="y2",
                tickmode="array", tickvals=t_ticks, ticktext=t_labels, minor=dict(minor_style, tickvals=t_minor),
                title=dict(text="t", standoff=9, font=dict(family=FONT, size=29, color="black"))),
    yaxis2=dict(ax_common, domain=ydom, range=[-15.95, 13.67], anchor="x2",
                tickmode="array", tickvals=x_ticks, ticktext=x_labels, minor=dict(minor_style, tickvals=x_minor),
                title=dict(text="<i>χ</i><sub><i>n</i></sub>(<i>t</i>)", standoff=8,
                           font=dict(family=FONT, size=30, color="black"))),
)

fig.write_html("out.html")
